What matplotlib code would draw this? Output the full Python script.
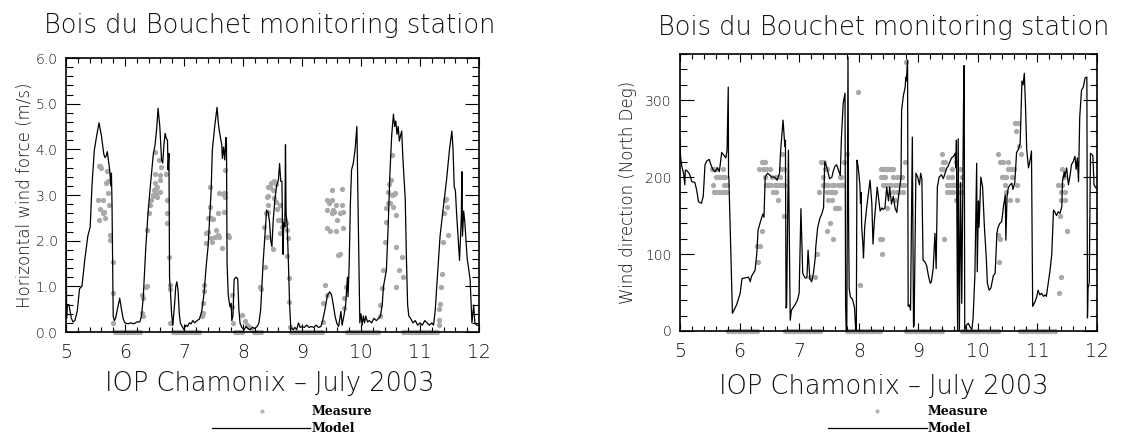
import matplotlib
matplotlib.use("Agg")
import matplotlib.pyplot as plt
from matplotlib.ticker import MultipleLocator, FormatStrFormatter
from matplotlib.lines import Line2D

# ---------------- data : left panel (horizontal wind force, m/s) ----------------
speed_model_t = [5.00, 5.01, 5.02, 5.05, 5.07, 5.09, 5.12, 5.15, 5.19, 5.23, 5.27, 5.32, 5.37, 5.41,
                 5.44, 5.48, 5.52, 5.56, 5.60, 5.64, 5.66, 5.68, 5.70, 5.72, 5.74, 5.76, 5.77, 5.78,
                 5.79, 5.80, 5.82, 5.84, 5.88, 5.91, 5.94, 5.97, 6.00, 6.05, 6.10, 6.15, 6.20, 6.25,
                 6.28, 6.31, 6.35, 6.39, 6.43, 6.48, 6.51, 6.54, 6.56, 6.59, 6.62, 6.64, 6.66, 6.68,
                 6.70, 6.72, 6.73, 6.745, 6.755, 6.77, 6.79, 6.81, 6.84, 6.86, 6.88, 6.90, 6.92, 6.94,
                 6.97, 7.00, 7.03, 7.06, 7.09, 7.12, 7.15, 7.18, 7.22, 7.26, 7.30, 7.34, 7.38, 7.41,
                 7.44, 7.46, 7.48, 7.52, 7.56, 7.58, 7.60, 7.62, 7.64, 7.65, 7.67, 7.69, 7.71, 7.72,
                 7.73, 7.75, 7.78, 7.80, 7.81, 7.83, 7.85, 7.88, 7.91, 7.93, 7.95, 7.98, 8.02, 8.05,
                 8.08, 8.12, 8.16, 8.20, 8.24, 8.27, 8.30, 8.34, 8.38, 8.40, 8.43, 8.45, 8.47, 8.49,
                 8.51, 8.54, 8.57, 8.60, 8.62, 8.64, 8.66, 8.67, 8.68, 8.69, 8.71, 8.72, 8.73, 8.75,
                 8.77, 8.79, 8.81, 8.85, 8.88, 8.91, 8.94, 8.97, 9.00, 9.04, 9.08, 9.12, 9.16, 9.20,
                 9.24, 9.28, 9.32, 9.35, 9.39, 9.43, 9.47, 9.50, 9.53, 9.56, 9.59, 9.62, 9.66, 9.68,
                 9.71, 9.74, 9.76, 9.77, 9.78, 9.80, 9.82, 9.84, 9.87, 9.90, 9.93, 9.96, 9.98, 10.00,
                 10.02, 10.04, 10.06, 10.08, 10.11, 10.14, 10.18, 10.22, 10.26, 10.30, 10.33, 10.36,
                 10.38, 10.41, 10.43, 10.46, 10.49, 10.52, 10.55, 10.57, 10.59, 10.61, 10.63, 10.65,
                 10.67, 10.69, 10.71, 10.73, 10.75, 10.77, 10.79, 10.81, 10.84, 10.88, 10.92, 10.96,
                 11.00, 11.04, 11.08, 11.12, 11.16, 11.20, 11.23, 11.26, 11.28, 11.31, 11.34, 11.39,
                 11.45, 11.50, 11.54, 11.56, 11.58, 11.60, 11.62, 11.65, 11.67, 11.70, 11.71, 11.72,
                 11.74, 11.76, 11.78, 11.80, 11.82, 11.85, 11.87, 11.88, 11.91, 11.93, 11.96, 12.00]
speed_model_v = [3.80, 0.30, 0.60, 0.60, 0.45, 0.30, 0.22, 0.25, 0.45, 0.95, 1.00, 1.60, 2.10, 2.30,
                 3.20, 3.98, 4.30, 4.58, 4.30, 3.90, 3.82, 3.85, 3.95, 3.75, 3.55, 3.20, 3.48, 2.80,
                 1.50, 0.35, 0.25, 0.30, 0.55, 0.74, 0.50, 0.28, 0.20, 0.18, 0.20, 0.18, 0.22, 0.22,
                 0.35, 0.77, 1.80, 2.60, 3.20, 3.90, 4.10, 4.50, 4.90, 4.50, 3.77, 3.70, 4.10, 4.35,
                 4.24, 4.20, 3.55, 3.91, 1.20, 0.90, 0.40, 0.15, 0.60, 1.00, 1.10, 0.90, 0.40, 0.19,
                 0.12, 0.05, 0.15, 0.12, 0.20, 0.18, 0.25, 0.20, 0.25, 0.28, 0.45, 0.85, 1.50, 1.90,
                 2.60, 3.10, 3.98, 4.50, 4.92, 4.60, 4.39, 4.24, 4.10, 3.80, 4.05, 3.77, 4.26, 4.10,
                 1.50, 0.80, 0.55, 0.63, 0.25, 0.35, 1.15, 1.20, 1.17, 0.50, 0.19, 0.10, 0.05, 0.12,
                 0.08, 0.05, 0.10, 0.08, 0.12, 0.20, 0.50, 1.50, 2.30, 2.67, 2.60, 2.40, 2.00, 1.87,
                 2.40, 2.90, 3.20, 3.33, 3.69, 3.30, 3.30, 2.20, 1.70, 2.40, 2.30, 4.10, 2.60, 2.30,
                 1.50, 0.60, 0.10, 0.05, 0.10, 0.05, 0.20, 0.10, 0.12, 0.10, 0.15, 0.10, 0.12, 0.10,
                 0.15, 0.10, 0.12, 0.25, 0.50, 0.80, 0.88, 0.82, 0.60, 0.35, 0.19, 0.12, 0.45, 0.15,
                 0.35, 0.60, 0.99, 1.20, 0.77, 1.50, 2.80, 3.55, 3.70, 4.00, 4.50, 2.00, 0.20, 0.40,
                 0.15, 0.35, 0.20, 0.35, 0.22, 0.25, 0.20, 0.30, 0.25, 0.30, 0.35, 0.60,
                 0.99, 1.20, 1.35, 2.30, 3.47, 4.30, 4.77, 4.50, 4.62, 4.33, 4.50, 4.18,
                 4.30, 4.40, 3.80, 3.33, 2.90, 1.60, 0.60, 0.35, 0.30, 0.20, 0.25, 0.15,
                 0.20, 0.15, 0.25, 0.20, 0.15, 0.20, 0.15, 0.50, 0.92, 1.50, 2.10, 2.67,
                 3.33, 4.00, 4.40, 4.00, 3.18, 3.10, 2.60, 2.00, 1.57, 2.50, 3.51, 2.10,
                 2.65, 2.40, 2.00, 1.60, 1.43, 1.14, 0.50, 0.20, 0.59, 0.20, 0.15, 0.15]

speed_meas_t = [5.56, 5.58, 5.60, 5.70, 5.67, 5.72, 5.55, 5.62, 5.58, 5.62, 5.65, 5.56, 5.66, 5.73,
                5.72, 5.75, 5.75, 5.79, 5.80, 5.80,
                6.28, 6.30, 6.28, 6.30, 6.36, 6.37, 6.38, 6.41, 6.42, 6.44, 6.48, 6.49, 6.52, 6.53,
                6.55, 6.71, 6.71, 6.71, 6.74, 6.76, 6.76, 6.76, 6.78, 6.51, 6.58, 6.61, 6.51, 6.59,
                6.69, 6.50, 6.50, 6.60, 6.55, 6.48, 6.59,
                7.34, 7.34, 7.33, 7.32, 7.31, 7.38, 7.38, 7.41, 7.44, 7.46, 7.47, 7.49, 7.55, 7.40,
                7.45, 7.47, 7.53, 7.57, 7.59, 7.64, 7.67, 7.69, 7.75, 7.76, 7.68, 7.58, 7.81, 7.82,
                7.83, 7.98, 8.04, 8.06, 8.10, 8.13, 7.44, 7.59, 7.66, 7.69, 7.70,
                8.29, 8.31, 8.37, 8.40, 8.39, 8.42, 8.41, 8.46, 8.48, 8.51, 8.43, 8.56, 8.57, 8.63,
                8.59, 8.63, 8.63, 8.66, 8.71, 8.73, 8.75, 8.76, 8.75, 8.78, 8.78, 8.80, 8.50, 8.36,
                8.43, 8.52, 8.56, 8.43, 8.52,
                9.42, 9.46, 9.50, 9.42, 9.53, 9.58, 9.64, 9.68, 9.69, 9.50, 9.55, 9.60, 9.42, 9.48,
                9.58, 9.70, 9.61, 9.64, 9.39, 9.36, 9.42, 9.36, 9.71, 9.74, 9.71, 9.50, 9.68,
                10.32, 10.32, 10.35, 10.37, 10.41, 10.43, 10.43, 10.46, 10.45, 10.48, 10.51, 10.52,
                10.56, 10.58, 10.49, 10.54, 10.60, 10.52, 10.60, 10.69, 10.65, 10.60, 10.72,
                11.33, 11.34, 11.35, 11.38, 11.39, 11.40, 11.42, 11.45, 11.44, 11.48, 11.33, 11.32]
speed_meas_v = [3.64, 3.64, 3.60, 3.53, 3.27, 3.30, 2.88, 2.88, 2.69, 2.60, 2.63, 2.45, 2.49, 2.78,
                3.04, 2.12, 2.01, 1.54, 0.85, 0.19,
                0.81, 0.74, 0.41, 0.34, 0.99, 1.00, 2.23, 2.60, 2.78, 2.89, 3.00, 3.12, 3.05, 3.15,
                2.95, 2.89, 2.60, 2.38, 1.65, 1.03, 0.95, 0.19, 0.19, 3.95, 3.77, 3.62, 3.47, 3.43,
                3.47, 3.26, 3.10, 3.33, 3.18, 2.98, 3.07,
                1.03, 0.90, 0.63, 0.41, 0.34, 1.94, 2.16, 2.49, 2.74, 2.49, 2.47, 2.47, 2.23, 2.20,
                2.05, 1.98, 2.09, 2.12, 2.09, 1.83, 3.05, 3.05, 2.12, 2.09, 2.63, 2.60, 0.81, 0.55,
                0.19, 0.37, 0.23, 0.15, 0.12, 0.08, 3.17, 3.04, 3.03, 3.55, 2.95,
                0.99, 0.95, 1.42, 2.09, 2.60, 2.78, 2.96, 3.18, 3.26, 3.10, 2.63, 2.85, 2.70, 2.78,
                2.45, 2.16, 2.45, 2.30, 2.45, 2.38, 2.23, 2.05, 1.66, 1.18, 0.66, 0.10, 1.82, 2.30,
                3.18, 3.30, 3.25, 2.97, 2.93,
                2.88, 2.82, 2.88, 2.67, 2.67, 2.78, 2.60, 2.78, 2.63, 2.60, 2.63, 2.45, 2.27, 2.22,
                2.22, 2.27, 1.69, 1.70, 1.03, 0.63, 0.80, 0.21, 0.52, 0.99, 0.75, 3.11, 3.13,
                0.34, 0.60, 0.96, 1.36, 1.98, 2.41, 2.71, 2.82, 3.07, 3.24, 3.33, 3.00,
                3.02, 3.05, 2.82, 2.74, 2.56, 3.88, 1.87, 1.65, 1.36, 0.99, 1.21,
                0.50, 0.62, 0.99, 1.27, 1.98, 2.60, 2.89, 2.74, 2.92, 2.12, 0.27, 0.15]

# times at which the measured wind force is zero (night-time calm)
speed_calm_t = [5.83, 5.87, 5.91, 5.95, 5.99, 6.03, 6.07, 6.11, 6.15, 6.19, 6.23, 6.25,
                6.82, 6.86, 6.90, 6.94, 6.98, 7.02, 7.06, 7.10, 7.14, 7.18, 7.22, 7.26,
                7.86, 7.90, 7.94, 7.98, 8.18, 8.22, 8.26, 8.30,
                8.82, 8.86, 8.90, 8.94, 8.98, 9.02, 9.06, 9.10, 9.14, 9.18, 9.22, 9.26, 9.30, 9.34,
                9.77, 9.81, 9.85, 9.89, 9.93, 9.97, 10.01, 10.05, 10.09, 10.13, 10.17, 10.21, 10.25, 10.28,
                10.71, 10.75, 10.79, 10.83, 10.87, 10.91, 10.95, 10.99, 11.03, 11.07, 11.11, 11.15,
                11.19, 11.23, 11.27, 11.29]

# ---------------- data : right panel (wind direction, North deg) ----------------
dir_model_t = [5.00, 5.01, 5.03, 5.06, 5.08, 5.09, 5.11, 5.16, 5.20, 5.25, 5.28, 5.31, 5.36, 5.39,
               5.42, 5.45, 5.49, 5.52, 5.55, 5.59, 5.63, 5.66, 5.70, 5.74, 5.77, 5.79, 5.81, 5.815,
               5.82, 5.88, 5.95, 6.01, 6.04, 6.09, 6.15, 6.18, 6.20, 6.26, 6.29, 6.31, 6.35, 6.39,
               6.41, 6.43, 6.47, 6.50, 6.54, 6.59, 6.63, 6.67, 6.69, 6.73, 6.76, 6.77, 6.78, 6.79,
               6.82, 6.85, 6.87, 6.93, 6.97, 7.00, 7.03, 7.06, 7.10, 7.13, 7.15, 7.18, 7.21, 7.24,
               7.27, 7.28, 7.31, 7.35, 7.38, 7.41, 7.43, 7.46, 7.51, 7.55, 7.57, 7.60, 7.63, 7.66,
               7.69, 7.71, 7.74, 7.77, 7.775, 7.78, 7.79, 7.80, 7.82, 7.83, 7.84, 7.86, 7.88, 7.90,
               7.93, 7.95, 7.96, 7.97, 7.99, 8.02, 8.03, 8.04, 8.05, 8.07, 8.08, 8.10, 8.13, 8.19,
               8.22, 8.24, 8.26, 8.29, 8.31, 8.34, 8.36, 8.39, 8.41, 8.44,
               8.47, 8.50, 8.52, 8.55, 8.58, 8.61, 8.64, 8.66, 8.69, 8.71, 8.72, 8.75, 8.78, 8.79,
               8.80, 8.82, 8.83, 8.85, 8.87, 8.90, 8.92, 8.93, 8.96, 8.99, 9.02, 9.04, 9.06, 9.08,
               9.11, 9.14, 9.17, 9.20, 9.22, 9.25, 9.28, 9.30, 9.32, 9.35, 9.39, 9.42, 9.45, 9.48,
               9.50, 9.53, 9.56, 9.59, 9.62, 9.63, 9.64, 9.66, 9.67, 9.69, 9.71, 9.73, 9.76, 9.77,
               9.78, 9.81, 9.84, 9.87, 9.90, 9.92, 9.95, 9.98, 9.99, 10.01, 10.02, 10.05, 10.08,
               10.11, 10.14, 10.16, 10.19, 10.22, 10.26, 10.29, 10.32, 10.34, 10.37, 10.40, 10.43,
               10.46, 10.47, 10.49, 10.51, 10.54, 10.57, 10.59, 10.62, 10.65, 10.68, 10.71, 10.74,
               10.76, 10.78, 10.80, 10.82, 10.85, 10.88, 10.90, 10.92, 10.96, 10.99, 11.01, 11.04,
               11.07, 11.10, 11.13, 11.15, 11.18, 11.21, 11.24, 11.27, 11.29, 11.32, 11.35, 11.38,
               11.41, 11.42, 11.45, 11.46, 11.49, 11.52, 11.55, 11.57, 11.60, 11.63, 11.65, 11.67,
               11.69, 11.71, 11.74, 11.77, 11.80, 11.83, 11.84, 11.85, 11.87, 11.89, 11.93, 11.95,
               11.98, 12.00]
dir_model_v = [250, 226, 214, 205, 190, 209, 209, 204, 194, 193, 183, 168, 166, 175,
               216, 221, 223, 216, 210, 207, 212, 207, 232, 228, 225, 235, 317, 200,
               200, 23, 34, 49, 68, 69, 70, 64, 71, 79, 101, 131, 142, 152,
               148, 200, 205, 203, 200, 200, 196, 205, 235, 274, 240, 248, 30, 32,
               235, 14, 27, 34, 40, 49, 159, 75, 69, 69, 105, 68, 64, 75,
               95, 110, 134, 147, 152, 160, 220, 214, 198, 200, 207, 214, 216, 209,
               202, 252, 296, 309, 143, 32, 0, 0, 356, 140, 55, 44, 43, 40,
               30, 0, 0, 222, 214, 190, 166, 180, 135, 113, 95, 135, 158, 196,
               166, 113, 140, 169, 187, 169, 156, 160, 158, 160,
               187, 169, 187, 165, 175, 160, 154, 170, 187, 200, 287, 306, 317, 330,
               325, 352, 32, 34, 27, 252, 5, 8, 205, 200, 190, 205, 198, 92,
               90, 85, 72, 62, 64, 81, 127, 81, 187, 200, 203, 198, 205, 212,
               214, 220, 225, 227, 231, 212, 248, 0, 250, 0, 193, 36, 298, 345,
               2, 8, 10, 5, 2, 17, 72, 218, 77, 169, 135, 200, 187,
               135, 97, 62, 53, 56, 72, 75, 127, 135, 140, 142, 162,
               177, 118, 175, 186, 190, 192, 184, 193, 232, 236, 244, 325,
               320, 335, 292, 236, 212, 223, 234, 32, 38, 45, 53, 47,
               49, 45, 47, 45, 62, 78, 99, 157, 155, 150, 155, 153,
               162, 194, 207, 200, 212, 190, 203, 216, 220, 227, 210, 225,
               194, 278, 313, 317, 329, 330, 17, 56, 62, 231, 228, 190,
               186, 186]

dir_meas_t = [5.53, 5.57, 5.60, 5.72, 5.61, 5.65, 5.67, 5.72, 5.76, 5.56, 5.74, 5.79,
              5.57, 5.61, 5.66, 5.70, 5.74, 5.78,
              6.30, 6.35, 6.31, 6.37, 6.37, 6.39, 6.43, 6.33, 6.39, 6.44, 6.51, 6.43, 6.54, 6.61,
              6.68, 6.44, 6.48, 6.52, 6.59, 6.63, 6.68, 6.72, 6.74, 6.56, 6.61, 6.65, 6.75, 6.71,
              6.69, 6.75,
              7.19, 7.27, 7.30, 7.33, 7.37, 7.41, 7.43, 7.47, 7.40, 7.69, 7.71, 7.40, 7.44, 7.49,
              7.55, 7.59, 7.66, 7.70, 7.74, 7.46, 7.51, 7.55, 7.60, 7.49, 7.55, 7.60, 7.64, 7.67,
              7.51, 7.46, 7.56, 7.76, 7.81, 7.98, 8.02,
              8.36, 8.39, 8.39, 8.37, 8.41, 8.44, 8.46, 8.48, 8.50, 8.55, 8.58, 8.38, 8.40, 8.44,
              8.58, 8.64, 8.69, 8.73, 8.41, 8.46, 8.51, 8.55, 8.61, 8.66, 8.72, 8.76, 8.58, 8.64,
              8.68, 8.75, 8.61, 8.48, 8.78, 8.79,
              9.39, 9.42, 9.45, 9.64, 9.38, 9.42, 9.56, 9.70, 9.50, 9.56, 9.73, 9.48, 9.52, 9.56,
              9.60, 9.64, 9.70, 9.48, 9.53, 9.59, 9.66, 9.73, 9.63, 9.43,
              10.34, 10.38, 10.42, 10.50, 10.51, 10.56, 10.61, 10.40, 10.44, 10.47, 10.57, 10.46,
              10.65, 10.48, 10.54, 10.66, 10.34, 10.37, 10.36, 10.62, 10.68, 10.64, 10.69, 10.72,
              11.42, 11.45, 11.35, 11.42, 11.39, 11.47, 11.39, 11.46, 11.38, 11.49, 11.39, 11.36]
dir_meas_v = [210, 210, 210, 210, 200, 200, 200, 200, 200, 190, 190, 190,
              180, 180, 180, 180, 180, 180,
              110, 110, 90, 130, 220, 220, 220, 210, 210, 210, 210, 200, 200, 200,
              200, 190, 190, 190, 190, 190, 190, 190, 190, 180, 180, 170, 150, 230,
              210, 210,
              70, 70, 100, 180, 220, 220, 210, 210, 200, 200, 200, 190, 190, 190,
              190, 190, 190, 190, 190, 180, 180, 180, 180, 170, 170, 160, 160, 160,
              140, 130, 120, 220, 230, 310, 60,
              120, 120, 100, 210, 210, 210, 210, 210, 210, 210, 210, 200, 200, 200,
              200, 200, 200, 200, 190, 190, 190, 190, 190, 190, 190, 190, 180, 180,
              180, 180, 170, 160, 220, 350,
              230, 220, 220, 220, 210, 210, 210, 210, 200, 200, 200, 190, 190, 190,
              190, 190, 190, 180, 180, 180, 180, 180, 170, 120,
              230, 220, 220, 220, 210, 210, 210, 200, 200, 200, 200, 190,
              190, 180, 170, 170, 125, 120, 90, 270, 270, 260, 240, 230,
              210, 200, 190, 190, 180, 180, 170, 170, 150, 130, 70, 50]

# times at which the measured direction is recorded as 0 (calm)
dir_calm_t = [5.81, 5.85, 5.89, 5.93, 5.97, 6.01, 6.05, 6.09, 6.13, 6.17, 6.21, 6.25, 6.29,
              6.77, 6.81, 6.85, 6.89, 6.93, 6.97, 7.01, 7.05, 7.09, 7.13, 7.17, 7.21, 7.25, 7.29, 7.33, 7.35,
              7.80, 7.84, 7.88, 7.92, 7.96, 8.00, 8.04, 8.08, 8.12, 8.16, 8.20, 8.24, 8.28, 8.32, 8.36,
              8.80, 8.84, 8.88, 8.92, 8.96, 9.00, 9.04, 9.08, 9.12, 9.16, 9.20, 9.24, 9.28, 9.32, 9.36, 9.39,
              9.73, 9.77, 9.81, 9.85, 9.89, 9.93, 9.97, 10.01, 10.05, 10.09, 10.13, 10.17, 10.21, 10.25,
              10.29, 10.33, 10.34,
              10.71, 10.75, 10.79, 10.83, 10.87, 10.91, 10.95, 10.99, 11.03, 11.07, 11.11, 11.15,
              11.19, 11.23, 11.27, 11.29]

title_text = "Bois du Bouchet monitoring station"
xlabel_text = "IOP Chamonix – July 2003"
ylabels = ["Horizontal wind force (m/s)", "Wind direction (North Deg)"]
legend_labels = ["Measure", "Model"]

# ---------------- figure ----------------
W, H = 1123, 436
fig = plt.figure(figsize=(W / 100, H / 100), dpi=100)
GRAY = "#a9a9a9"
FONT = "DejaVu Sans"
TXT = "#111111"


def px_axes(l, t, r, b):
    return fig.add_axes([l / W, 1 - b / H, (r - l) / W, (b - t) / H])


def style(ax, ymax, ymaj, ymin, fmt):
    ax.set_xlim(5, 12)
    ax.set_ylim(0, ymax)
    ax.xaxis.set_major_locator(MultipleLocator(1))
    ax.xaxis.set_minor_locator(MultipleLocator(0.2))
    ax.yaxis.set_major_locator(MultipleLocator(ymaj))
    ax.yaxis.set_minor_locator(MultipleLocator(ymin))
    ax.yaxis.set_major_formatter(FormatStrFormatter(fmt))
    ax.tick_params(axis="both", which="both", direction="in", top=True, right=True,
                   width=0.8, color="black")
    ax.tick_params(axis="x", which="major", length=6, labelsize=13.5, pad=8)
    ax.tick_params(axis="x", which="minor", length=3.6)
    ax.tick_params(axis="y", which="major", length=10, labelsize=10, pad=6)
    ax.tick_params(axis="y", which="minor", length=5)
    for s in ax.spines.values():
        s.set_linewidth(1.2)
        s.set_zorder(5)
    for lab in ax.get_xticklabels() + ax.get_yticklabels():
        lab.set_fontfamily(FONT)
        lab.set_fontweight("light")
        lab.set_color(TXT)


axL = px_axes(66, 58, 479, 332)
axR = px_axes(680, 54, 1097, 331)
style(axL, 6.0, 1.0, 0.2, "%.1f")
style(axR, 360, 100, 20, "%d")

ms = 3.8
axL.plot(speed_meas_t, speed_meas_v, "o", ms=ms, mfc=GRAY, mec="none", clip_on=False, zorder=1)
axL.plot(speed_calm_t, [0.0] * len(speed_calm_t), "o", ms=ms, mfc=GRAY, mec="none",
         clip_on=False, zorder=1)
axL.plot(speed_model_t, speed_model_v, color="black", lw=0.9, zorder=3)

axR.plot(dir_meas_t, dir_meas_v, "o", ms=ms, mfc=GRAY, mec="none", clip_on=False, zorder=1)
axR.plot(dir_calm_t, [0] * len(dir_calm_t), "o", ms=ms, mfc=GRAY, mec="none",
         clip_on=False, zorder=1)
axR.plot(dir_model_t, dir_model_v, color="black", lw=0.9, zorder=3)

# titles, axis labels (figure pixel positions)
for cx, ty, xy, ylx, yly, yl in [(270, 26, 383, 25, 195, ylabels[0]),
                                  (884, 27, 386, 628, 192, ylabels[1])]:
    fig.text(cx / W, 1 - ty / H, title_text, ha="center", va="center",
             fontsize=18.5, family=FONT, fontweight="light", color=TXT)
    fig.text(cx / W, 1 - xy / H, xlabel_text, ha="center", va="center",
             fontsize=18.5, family=FONT, fontweight="light", color=TXT)
    fig.text(ylx / W, 1 - yly / H, yl, ha="center", va="center", rotation=90,
             fontsize=12, family=FONT, fontweight="light", color=TXT)

# legends below each panel
for dot_x, line_x0, line_x1, text_x in [(262, 212, 310, 312), (877, 828, 927, 928)]:
    fig.add_artist(Line2D([dot_x / W], [1 - 411 / H], marker="o", ms=3.0, mfc="#b5b5b5",
                          mec="none", ls="none", transform=fig.transFigure))
    fig.text(text_x / W, 1 - 411 / H, legend_labels[0], ha="left", va="center",
             fontsize=9, family="DejaVu Serif", fontweight="bold")
    fig.add_artist(Line2D([line_x0 / W, line_x1 / W], [1 - 428 / H, 1 - 428 / H],
                          color="black", lw=0.9, transform=fig.transFigure))
    fig.text(text_x / W, 1 - 428 / H, legend_labels[1], ha="left", va="center",
             fontsize=9, family="DejaVu Serif", fontweight="bold")

fig.savefig("out.png", dpi=100)
